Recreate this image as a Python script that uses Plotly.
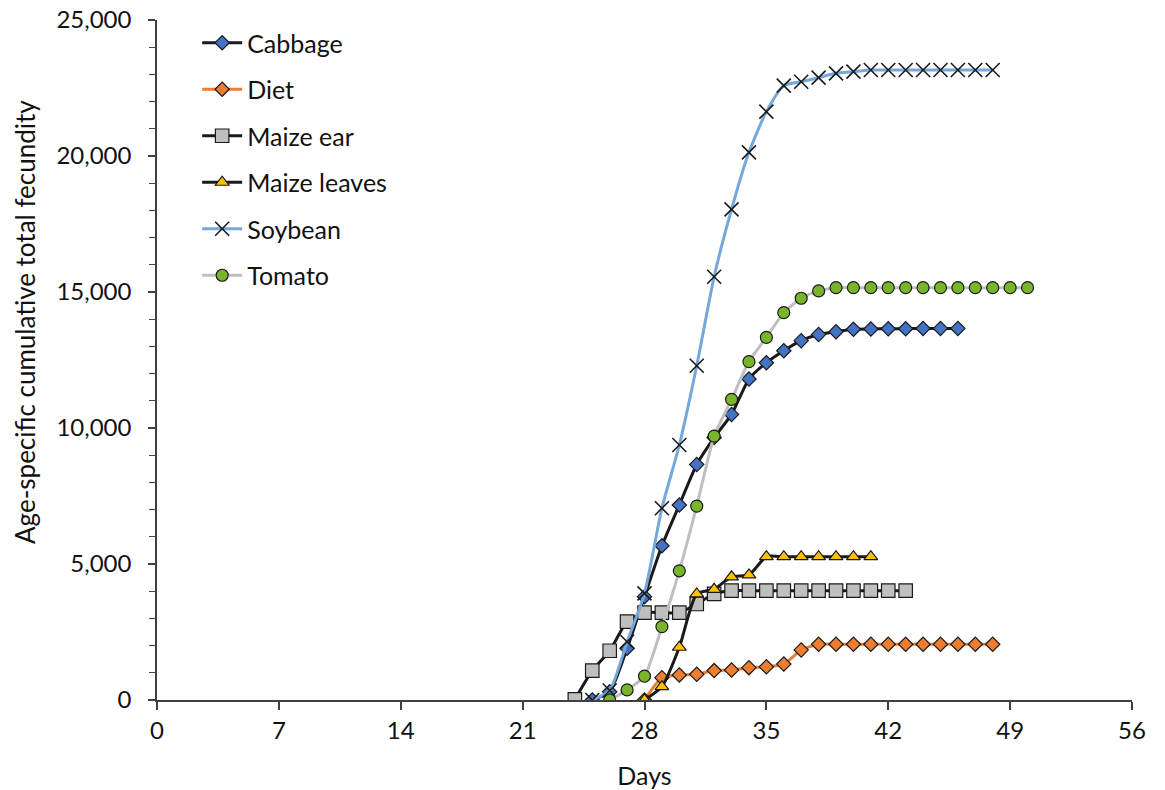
import plotly.graph_objects as go

# Days for each series
cabbage_days = list(range(25, 47))
cabbage_vals = [0, 300, 1900, 3800, 5670, 7170, 8660, 9650, 10500, 11800, 12400, 12840,
                13210, 13440, 13540, 13630, 13640, 13650, 13650, 13660, 13660, 13660]

diet_days = list(range(28, 49))
diet_vals = [0, 820, 920, 945, 1080, 1100, 1190, 1220, 1320, 1840, 2050,
             2050, 2050, 2050, 2050, 2050, 2050, 2050, 2050, 2050, 2050]

maize_ear_days = list(range(24, 44))
maize_ear_vals = [20, 1080, 1810, 2880, 3210, 3210, 3210, 3530, 3900, 4020,
                  4020, 4020, 4020, 4020, 4020, 4020, 4020, 4020, 4020, 4020]

maize_leaves_days = list(range(28, 42))
maize_leaves_vals = [0, 490, 1940, 3900, 4070, 4530, 4600, 5270, 5270, 5270, 5270, 5270, 5270, 5270]

soybean_days = list(range(25, 49))
soybean_vals = [0, 350, 2140, 3920, 7050, 9375, 12290, 15560, 18040, 20135, 21630, 22585,
                22730, 22880, 23040, 23100, 23160, 23160, 23160, 23160, 23160, 23160, 23160, 23160]

tomato_days = list(range(26, 51))
tomato_vals = [0, 370, 880, 2700, 4750, 7130, 9700, 11050, 12440, 13330, 14240, 14770,
               15040, 15160, 15160, 15160, 15160, 15160, 15160, 15160, 15160, 15160, 15160, 15160, 15160]

x_ticks = [0, 7, 14, 21, 28, 35, 42, 49, 56]
y_ticks = [0, 5000, 10000, 15000, 20000, 25000]

FONT = "Lato, 'Open Sans', sans-serif"
TXT = "#111111"

series = [
    ("Cabbage", cabbage_days, cabbage_vals, "#1a1a1a", "diamond", "#4472C4", 11),
    ("Diet", diet_days, diet_vals, "#ED7D31", "diamond", "#ED7D31", 11),
    ("Maize ear", maize_ear_days, maize_ear_vals, "#1a1a1a", "square", "#BFBFBF", 13.5),
    ("Maize leaves", maize_leaves_days, maize_leaves_vals, "#1a1a1a", "triangle-up", "#FFC000", 12),
    ("Soybean", soybean_days, soybean_vals, "#74A7DA", "x-thin", "#1a1a1a", 14),
    ("Tomato", tomato_days, tomato_vals, "#BFBFBF", "circle", "#78B52B", 12),
]

fig = go.Figure()
for i, (name, xs, ys, lcol, sym, mcol, msize) in enumerate(series):
    if sym == "x-thin":
        marker = dict(symbol=sym, size=msize, color=mcol, line=dict(color="#1a1a1a", width=1.6))
    else:
        marker = dict(symbol=sym, size=msize, color=mcol, line=dict(color="#1a1a1a", width=1.2))
    fig.add_trace(go.Scatter(
        x=xs, y=ys, name=name, mode="lines+markers",
        line=dict(color=lcol, width=3, shape="spline", smoothing=0.6),
        marker=marker, legendgroup=f"g{i}",
    ))

# page body has an 8px margin, so the figure is sized to fit the window exactly
fig.update_layout(
    width=1157, height=782,
    margin=dict(l=149, r=33, t=12, b=90, autoexpand=False),
    paper_bgcolor="white", plot_bgcolor="white",
    font=dict(family=FONT, size=24, color=TXT),
    showlegend=True,
    legend=dict(x=0.0412, y=1.0, xanchor="left", yanchor="top",
                bgcolor="rgba(0,0,0,0)", font=dict(size=25, family=FONT, color=TXT),
                tracegroupgap=11, itemwidth=40),
    xaxis=dict(
        range=[0, 56], tickvals=x_ticks, ticktext=[str(v) for v in x_ticks],
        showgrid=False, zeroline=False, showline=True, linecolor="#404040", linewidth=1.5,
        ticks="outside", ticklen=8, tickcolor="#404040", tickwidth=1.5,
        title=dict(text="Days", font=dict(size=25), standoff=30),
        tickfont=dict(size=24), automargin=False, ticklabeloverflow="allow",
    ),
    yaxis=dict(
        range=[0, 25000], tickvals=y_ticks, tickformat=",d",
        showgrid=False, zeroline=False, showline=True, linecolor="#404040", linewidth=1.5,
        ticks="outside", ticklen=7, tickcolor="#404040", tickwidth=1.5,
        minor=dict(dtick=1000, ticks="outside", ticklen=6, tickcolor="#404040", tickwidth=1.2, showgrid=False),
        ticklabelstandoff=12, ticklabeloverflow="allow",
        tickfont=dict(size=24), automargin=False,
    ),
    annotations=[dict(
        text="Age-specific cumulative total fecundity", textangle=-90,
        xref="paper", yref="paper", x=(25 - 157) / 975, y=(700 - 98) / 680,
        xanchor="center", yanchor="top", showarrow=False,
        font=dict(size=26, family=FONT, color=TXT),
    )],
)

fig.write_html("out.html")
